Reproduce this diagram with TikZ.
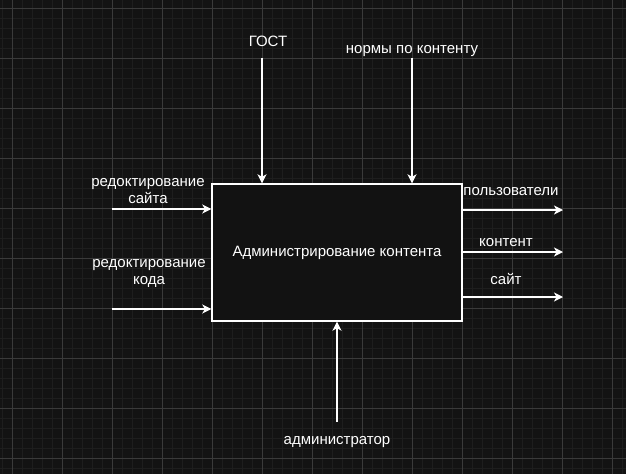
\documentclass[tikz,border=0pt]{standalone}
\usepackage{fontspec}
\setmainfont{Liberation Sans}
\usetikzlibrary{arrows.meta, positioning, calc}

\definecolor{bgdark}{HTML}{131313}
\definecolor{gridmajor}{HTML}{3A3A3A}
\definecolor{gridminor}{HTML}{1E1E1E}
\definecolor{boxdark}{HTML}{121212}

\tikzset{
  lbl/.style={text=white, font=\fontsize{15}{17}\selectfont, align=center, inner sep=0pt},
  flow/.style={draw=white, line width=1.4pt, -{Stealth[length=9pt, width=9pt, inset=2.5pt]}},
  procbox/.style={draw=white, fill=boxdark, line width=1.4pt, minimum width=250pt,
    minimum height=137pt, inner sep=0pt, text=white, font=\fontsize{15}{17}\selectfont}
}

\begin{document}
\begin{tikzpicture}[x=1pt, y=-1pt]
% background and grid
\fill[bgdark] (0,0) rectangle (626,474);
\useasboundingbox (0,0) rectangle (626,474);
\foreach \gx in {2,12,...,622} \draw[gridminor, line width=0.6pt] (\gx,0) -- (\gx,474);
\foreach \gy in {8,18,...,468} \draw[gridminor, line width=0.6pt] (0,\gy) -- (626,\gy);
\foreach \gx in {12,62,...,612} \draw[gridmajor, line width=0.7pt] (\gx,0) -- (\gx,474);
\foreach \gy in {8,58,...,458} \draw[gridmajor, line width=0.7pt] (0,\gy) -- (626,\gy);

% the function box
\node[procbox] (proc) at (337,252.5) {\raisebox{-1pt}{Администрирование контента}};

% controls (top)
\coordinate (gostIn) at (262,58);
\coordinate (normIn) at (412,58);
\node[lbl] (gost) at (268,41.5) {ГОСТ};
\node[lbl] (norm) at (412,51) {нормы по контенту};
\draw[flow] (gostIn) -- (gostIn |- proc.north);
\draw[flow] (normIn) -- (normIn |- proc.north);

% inputs (left)
\coordinate (siteIn) at (112,209);
\coordinate (codeIn) at (112,309);
\node[lbl] (siteLbl) at (148,191.5) {редоктирование\\сайта};
\node[lbl] (codeLbl) at (149,273.5) {редоктирование\\кода};
\draw[flow] (siteIn) -- (siteIn -| proc.west);
\draw[flow] (codeIn) -- (codeIn -| proc.west);

% outputs (right)
\coordinate (usrOut) at (563,210);
\coordinate (contOut) at (563,252);
\coordinate (webOut) at (563,297);
\node[lbl] (usrLbl) at (511,191.5) {пользователи};
\node[lbl] (contLbl) at (506,242.5) {контент};
\node[lbl] (webLbl) at (506,279.5) {сайт};
\draw[flow] (usrOut -| proc.east) -- (usrOut);
\draw[flow] (contOut -| proc.east) -- (contOut);
\draw[flow] (webOut -| proc.east) -- (webOut);

% mechanism (bottom)
\coordinate (admIn) at (337,422);
\node[lbl] (admLbl) at (337,442.5) {администратор};
\draw[flow] (admIn) -- (admIn |- proc.south);
\end{tikzpicture}
\end{document}
